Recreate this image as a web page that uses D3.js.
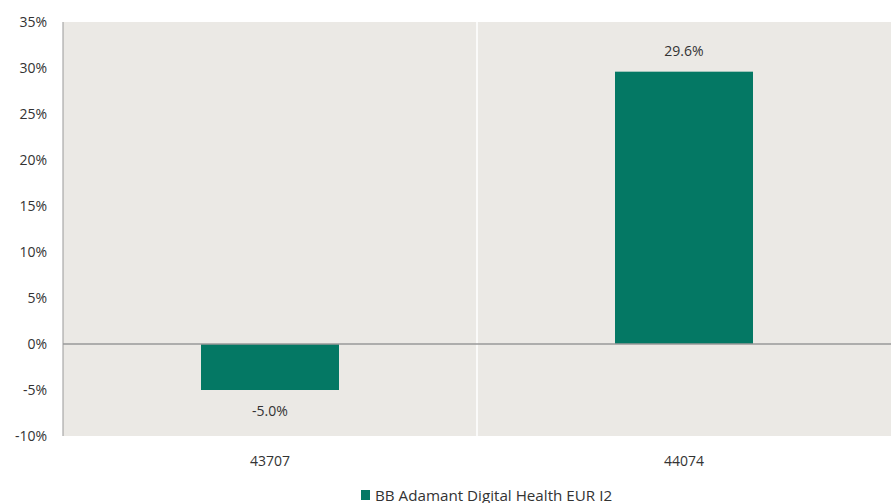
<!DOCTYPE html>
<html><head><meta charset="utf-8">
<script src="https://cdn.jsdelivr.net/npm/d3@7"></script>
<style>body{margin:0;background:#fff}svg{display:block}text{font-family:"Open Sans","Noto Sans",sans-serif;fill:#333}</style>
</head><body><div id="c"></div>
<script>
const categories = ["43707", "44074"];
const values = [-5.0, 29.6];
const yTicks = [-10, -5, 0, 5, 10, 15, 20, 25, 30, 35];
const seriesName = "BB Adamant Digital Health EUR I2";

const W = 892, H = 503;
const m = {l: 63, r: 1, t: 22, b: 67};
const svg = d3.select("#c").append("svg").attr("width", W).attr("height", H);
const x = d3.scaleBand().domain(categories).range([m.l, W - m.r]).paddingInner(0).paddingOuter(0);
const y = d3.scaleLinear().domain([-10, 35]).range([H - m.b, m.t]);
const color = "#047864";

svg.append("rect").attr("x", m.l).attr("y", m.t).attr("width", W - m.r - m.l).attr("height", H - m.b - m.t).attr("fill", "#ebe9e5");
categories.slice(1).forEach(c => {
  svg.append("line").attr("x1", x(c)).attr("x2", x(c)).attr("y1", m.t).attr("y2", H - m.b).attr("stroke", "#fff").attr("stroke-width", 1.5);
});
const bw = x.bandwidth() / 3;
svg.selectAll(".bar").data(values).enter().append("rect")
  .attr("x", (d, i) => x(categories[i]) + x.bandwidth() / 2 - bw / 2)
  .attr("y", d => y(Math.max(0, d)))
  .attr("width", bw)
  .attr("height", d => Math.abs(y(d) - y(0)))
  .attr("fill", color);
svg.append("line").attr("x1", m.l).attr("x2", W - m.r).attr("y1", y(0)).attr("y2", y(0)).attr("stroke", "#999").attr("stroke-width", 1.5);
svg.append("line").attr("x1", m.l).attr("x2", m.l).attr("y1", m.t).attr("y2", H - m.b).attr("stroke", "#999").attr("stroke-width", 1);
const yAxis = d3.axisLeft(y).tickValues(yTicks).tickFormat(d => d + "%").tickSize(0).tickPadding(16);
const ga = svg.append("g").attr("transform", `translate(${m.l},0)`).call(yAxis);
ga.select(".domain").remove();
ga.selectAll("text").style("font-size", "14px").attr("fill", "#333");
const xAxis = d3.axisBottom(x).tickSize(0).tickPadding(20);
const gx = svg.append("g").attr("transform", `translate(0,${H - m.b})`).call(xAxis);
gx.select(".domain").remove();
gx.selectAll("text").style("font-size", "14px").attr("fill", "#333");
svg.selectAll(".vl").data(values).enter().append("text")
  .attr("x", (d, i) => x(categories[i]) + x.bandwidth() / 2)
  .attr("y", d => d >= 0 ? y(d) - 16 : y(d) + 26)
  .attr("text-anchor", "middle").style("font-size", "14px")
  .text(d => d.toFixed(1) + "%");
const lg = svg.append("g").attr("transform", "translate(361,490)");
lg.append("rect").attr("x", 0).attr("y", 0).attr("width", 9).attr("height", 10).attr("fill", color);
lg.append("text").attr("x", 14).attr("y", 10.5).style("font-size", "15.2px").text(seriesName);
</script></body></html>
